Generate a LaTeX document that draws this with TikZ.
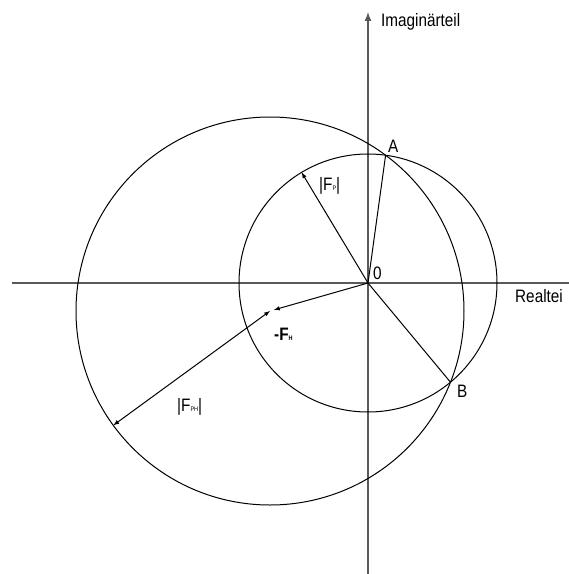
\documentclass[tikz,border=0pt]{standalone}
\usepackage{fontspec}
\setmainfont[FakeStretch=0.85]{Liberation Sans}
\usetikzlibrary{calc}
\newcommand{\tief}[1]{{\fontsize{6.5}{7}\selectfont #1}}
\begin{document}
\begin{tikzpicture}[x=1pt, y=-1pt, >=latex, font=\fontsize{18}{20}\selectfont,
  achse/.style={draw=black!65, line width=2pt},
  kreis/.style={draw, line width=1pt},
  vektor/.style={draw, line width=1pt},
  lbl/.style={inner sep=0pt, anchor=base west}]
\useasboundingbox (0,0) rectangle (569,574);
\coordinate (O) at (368,283);
\coordinate (C) at (270,311);
\coordinate (H) at ($(O)!0.96!(C)$);
\coordinate (A) at (385.6,155.2);
\coordinate (B) at (450.5,382.2);
\coordinate (P) at (301.6,172.4);
\coordinate (Q) at (113.3,425.3);
\coordinate (xl) at (12,283);
\coordinate (xr) at (569,283);
\coordinate (yu) at (368,574);
\coordinate (yo) at (368,12);
\node[lbl] (im) at (381,26) {Imaginärteil};
\node[lbl] (re) at (515,302) {Realtei};
\node[lbl] (a) at (388,152) {A};
\node[lbl] (b) at (457,397) {B};
\node[lbl] (null) at (373,279) {0};
\node[lbl] (fp) at (319,190) {|F\tief{P}|};
\node[lbl] (fh) at (274,340) {\bfseries -F\tief{H}};
\node[lbl] (fph) at (177,411) {|F\tief{PH}|};
\draw[achse] (xl) -- (xr);
\draw[achse,->] (yu) -- (yo);
\draw[kreis] (O) circle (129);
\draw[kreis] (C) circle (194);
\draw[vektor] (O) -- (A);
\draw[vektor] (O) -- (B);
\draw[vektor,->] (O) -- (P);
\draw[vektor,->] (O) -- (H);
\draw[vektor,<->] (C) -- (Q);
\end{tikzpicture}
\end{document}
